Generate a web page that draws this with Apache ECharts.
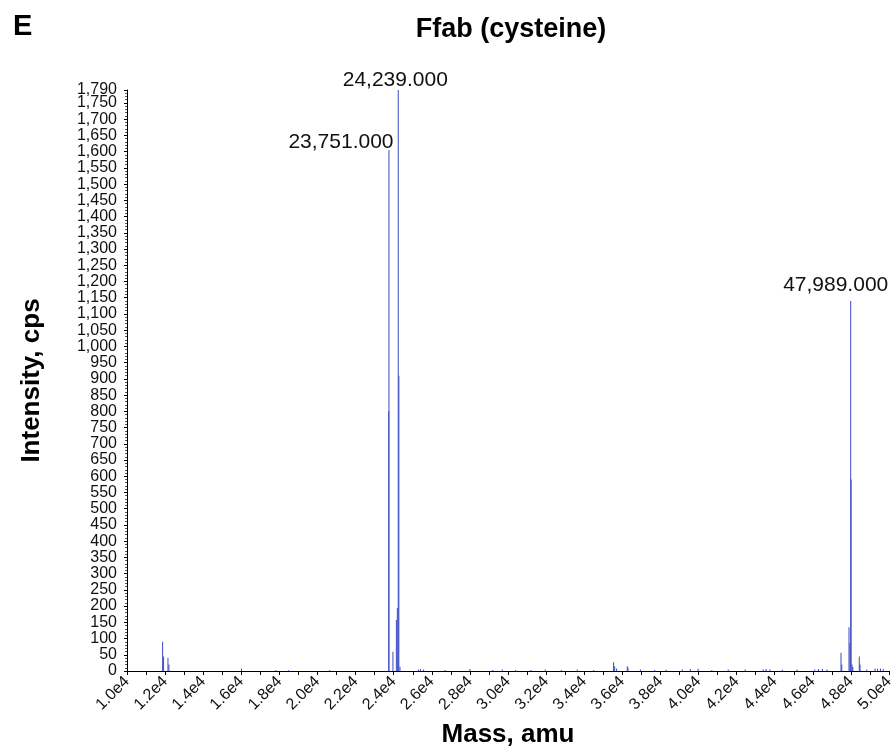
<!DOCTYPE html>
<html>
<head>
<meta charset="utf-8">
<script src="https://cdn.jsdelivr.net/npm/echarts@6/dist/echarts.min.js"></script>
<style>html,body{margin:0;padding:0;background:#fff}#c{width:893px;height:753px}</style>
</head>
<body>
<div id="c"></div>
<script>
// Mass (amu) and intensity (cps) sticks
const masses = [
  11870, 11920, 12150, 12200, 16010, 17810, 18480, 20640,
  23740, 23751, 23960, 24140, 24190, 24239, 24270, 24330,
  25300, 25400, 25570, 26700, 28000, 29200, 29700, 30400, 31200, 31960, 32800, 33640, 34500,
  35540, 35600, 35700, 36260, 36300, 36950, 37700, 38300, 39150, 39570, 39980, 40700, 41560,
  42450, 43400, 43550, 43750, 44400, 45170, 46100, 46300, 46500, 46750,
  47480, 47520, 47900, 47950, 47989, 48010, 48060, 48100, 48440, 48480, 48830,
  49270, 49400, 49550, 49700
];
const intensities = [
  90, 45, 40, 20, 8, 3, 2, 3,
  800, 1605, 59, 157, 194, 1790, 910, 13,
  5, 6, 5, 3, 6, 3, 5, 3, 3, 5, 3, 5, 3,
  27, 15, 8, 15, 10, 5, 3, 4, 5, 6, 7, 3, 5,
  5, 5, 6, 5, 4, 5, 5, 6, 7, 5,
  56, 20, 135, 86, 1140, 590, 20, 12, 45, 20, 5,
  8, 7, 8, 6
];
const labelledPeaks = [23751, 24239, 47989];
// y tick labels: every 50 up to 1,750, then the axis top 1,790
const yTicks = [];
for (let v = 0; v <= 1750; v += 50) yTicks.push(v);
yTicks.push(1790);
const yMax = 1790;
const xMin = 10000, xMax = 50000;

const fmtMass = v => v.toLocaleString('en-US', {minimumFractionDigits: 3, maximumFractionDigits: 3});

const labelOffsets = {23751: [-48, 5], 24239: [-3, 3], 47989: [-15, -3]};
const data = masses.map((m, i) => {
  const item = {value: [m, intensities[i]]};
  if (labelledPeaks.includes(m)) {
    item.label = {
      show: true, position: 'top', distance: 2,
      offset: labelOffsets[m],
      formatter: () => fmtMass(m),
      fontFamily: 'Liberation Sans, Arial', fontSize: 21, color: '#111'
    };
  }
  return item;
});

const chart = echarts.init(document.getElementById('c'));
const font = 'Liberation Sans, Arial, sans-serif';
const yLabelStyle = {margin: 10, fontFamily: font, fontSize: 16, color: '#111',
  showMinLabel: true, showMaxLabel: true, formatter: v => v.toLocaleString('en-US')};
chart.setOption({
  animation: false,
  backgroundColor: '#fff',
  title: [
    {text: 'E', left: 8, top: 7, textStyle: {fontFamily: font, fontSize: 29, fontWeight: 'bold', color: '#000'}},
    {text: 'Ffab (cysteine)', left: 506, top: 11, textAlign: 'center', textStyle: {fontFamily: font, fontSize: 27, fontWeight: 'bold', color: '#000'}}
  ],
  grid: {left: 127, right: 4, top: 90, bottom: 82, containLabel: false, outerBoundsMode: 'none'},
  xAxis: {
    type: 'value', min: xMin, max: xMax, interval: 2000,
    name: 'Mass, amu', nameLocation: 'middle', nameGap: 51,
    nameTextStyle: {fontFamily: font, fontSize: 26, fontWeight: 'bold', color: '#000'},
    axisLine: {show: true, lineStyle: {color: '#000', width: 1}},
    axisTick: {show: true, length: 4, lineStyle: {color: '#000'}},
    minorTick: {show: true, splitNumber: 2, length: 4, lineStyle: {color: '#000'}},
    splitLine: {show: false},
    axisLabel: {
      rotate: 45, margin: 8, fontFamily: font, fontSize: 16, color: '#111',
      showMinLabel: true, showMaxLabel: true,
      formatter: v => (v / 10000).toFixed(1) + 'e4'
    }
  },
  yAxis: [{
    type: 'value', min: 0, max: yMax, interval: 50, position: 'left',
    name: 'Intensity, cps', nameLocation: 'middle', nameGap: 82,
    nameTextStyle: {fontFamily: font, fontSize: 26, fontWeight: 'bold', color: '#000'},
    axisLine: {show: true, lineStyle: {color: '#000', width: 1}},
    axisTick: {show: true, length: 3, lineStyle: {color: '#000'}, customValues: yTicks},
    minorTick: {show: true, splitNumber: 5, length: 2, lineStyle: {color: '#555'}},
    splitLine: {show: false},
    axisLabel: Object.assign({customValues: yTicks.filter(v => v < yMax)}, yLabelStyle)
  }, {
    type: 'value', min: 0, max: yMax, position: 'left', offset: 0,
    axisLine: {show: false}, axisTick: {show: false}, splitLine: {show: false},
    axisLabel: Object.assign({customValues: yTicks.filter(v => v >= yMax), padding: [0, 0, 5, 0]}, yLabelStyle)
  }],
  series: [{
    type: 'bar',
    barWidth: 1,
    itemStyle: {color: '#3a4cc0'},
    data: data
  }]
});
</script>
</body>
</html>
